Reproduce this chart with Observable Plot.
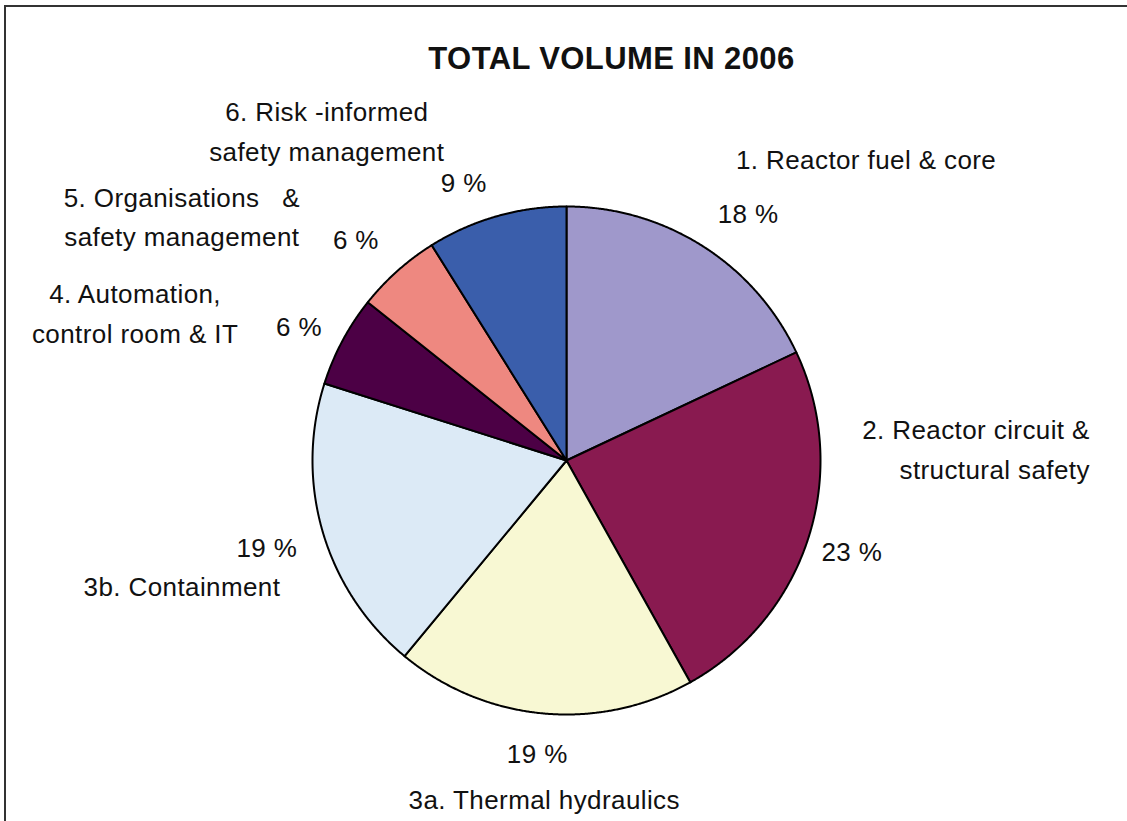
<!DOCTYPE html>
<html>
<head>
<meta charset="utf-8">
<script src="https://cdn.jsdelivr.net/npm/d3@7"></script>
<script src="https://cdn.jsdelivr.net/npm/@observablehq/plot@0.6"></script>
<style>
  html, body { margin: 0; padding: 0; background: #ffffff; }
  #wrap { position: relative; width: 1127px; height: 821px; overflow: hidden; }
  #frame { position: absolute; left: 4px; top: 5px; width: 2000px; height: 2000px;
           border-left: 2px solid #333; border-top: 2px solid #333; pointer-events: none; }
  #chart svg text { white-space: pre; letter-spacing: 0.4px; }
  #chart svg g[aria-label="title"] text { letter-spacing: 0px; }
</style>
</head>
<body>
<div id="wrap">
  <div id="chart"></div>
  <div id="frame"></div>
</div>
<script>
// ---- data ----
const categories = [
  "1. Reactor fuel & core",
  "2. Reactor circuit &\nstructural safety",
  "3a. Thermal hydraulics",
  "3b. Containment",
  "4. Automation,\ncontrol room & IT",
  "5. Organisations   &\nsafety management",
  "6. Risk -informed\nsafety management"
];
const shares = [18.0, 23.9, 19.1, 18.9, 5.8, 5.4, 8.9];
const pctLabels = ["18 %", "23 %", "19 %", "19 %", "6 %", "6 %", "9 %"];
const colors = ["#9F98CB", "#891A50", "#F8F8D3", "#DCEAF6", "#4C0045", "#EE8880", "#3A5EAB"];
const chartTitle = "TOTAL VOLUME IN 2006";

// ---- layout (pixels) ----
const W = 1127, H = 821, CX = 566, CY = 460, R = 254;
const pctRadius = 1.18;
const pctNudge = [[21, 7], [0, 0], [-2, -4], [-12, 4], [-3, 8], [-11, 4], [-20, 11]];
const catNudge = [[139, -51], [238, -106], [5, 37], [-97, 38], [-167, -9], [-185, -23], [-157, -44]];
const catAnchor = ["middle", "end", "middle", "middle", "middle", "middle", "middle"];

// ---- slice geometry from d3.pie ----
const arcs = d3.pie().sort(null).value(d => d)(shares);
const slicePts = [];
arcs.forEach((a, i) => {
  const cat = categories[i];
  slicePts.push({cat, x: 0, y: 0});
  const n = Math.max(2, Math.ceil((a.endAngle - a.startAngle) / (Math.PI / 720)));
  for (let k = 0; k <= n; k++) {
    const t = a.startAngle + (a.endAngle - a.startAngle) * k / n;
    slicePts.push({cat, x: Math.sin(t), y: Math.cos(t)});
  }
});

const pctData = arcs.map((a, i) => {
  const m = (a.startAngle + a.endAngle) / 2;
  return {
    text: pctLabels[i],
    x: pctRadius * Math.sin(m) + pctNudge[i][0] / R,
    y: pctRadius * Math.cos(m) - pctNudge[i][1] / R
  };
});
const catData = arcs.map((a, i) => {
  const m = (a.startAngle + a.endAngle) / 2;
  return {
    text: categories[i],
    anchor: catAnchor[i],
    x: pctRadius * Math.sin(m) + catNudge[i][0] / R,
    y: pctRadius * Math.cos(m) - catNudge[i][1] / R
  };
});

const font = "'Liberation Sans', Arial, Helvetica, sans-serif";
const labelFont = 26;

const chart = Plot.plot({
  width: W,
  height: H,
  margin: 0,
  x: {domain: [-CX / R, (W - CX) / R], axis: null},
  y: {domain: [-(H - CY) / R, CY / R], axis: null},
  color: {domain: categories, range: colors},
  style: {fontFamily: font, background: "transparent", color: "#111"},
  marks: [
    Plot.line(slicePts, {
      x: "x", y: "y", z: "cat", fill: "cat",
      stroke: "#000", strokeWidth: 2, strokeLinejoin: "round",
      curve: "linear-closed"
    }),
    Plot.text(pctData, {
      x: "x", y: "y", text: "text",
      fontSize: labelFont, fill: "#111", lineAnchor: "middle", textAnchor: "middle"
    }),
    Plot.text(catData.filter(d => d.anchor === "middle"), {
      x: "x", y: "y", text: "text",
      fontSize: labelFont, fill: "#111", lineAnchor: "middle", textAnchor: "middle",
      lineHeight: 1.52
    }),
    Plot.text(catData.filter(d => d.anchor === "end"), {
      x: "x", y: "y", text: "text",
      fontSize: labelFont, fill: "#111", lineAnchor: "middle", textAnchor: "end",
      lineHeight: 1.52
    }),
    Plot.text([chartTitle], {
      frameAnchor: "top", lineAnchor: "middle", dy: 59, dx: 47.5,
      fontSize: 31, fontWeight: "bold", fill: "#111", ariaLabel: "title"
    })
  ]
});
document.getElementById("chart").appendChild(chart);
</script>
</body>
</html>
